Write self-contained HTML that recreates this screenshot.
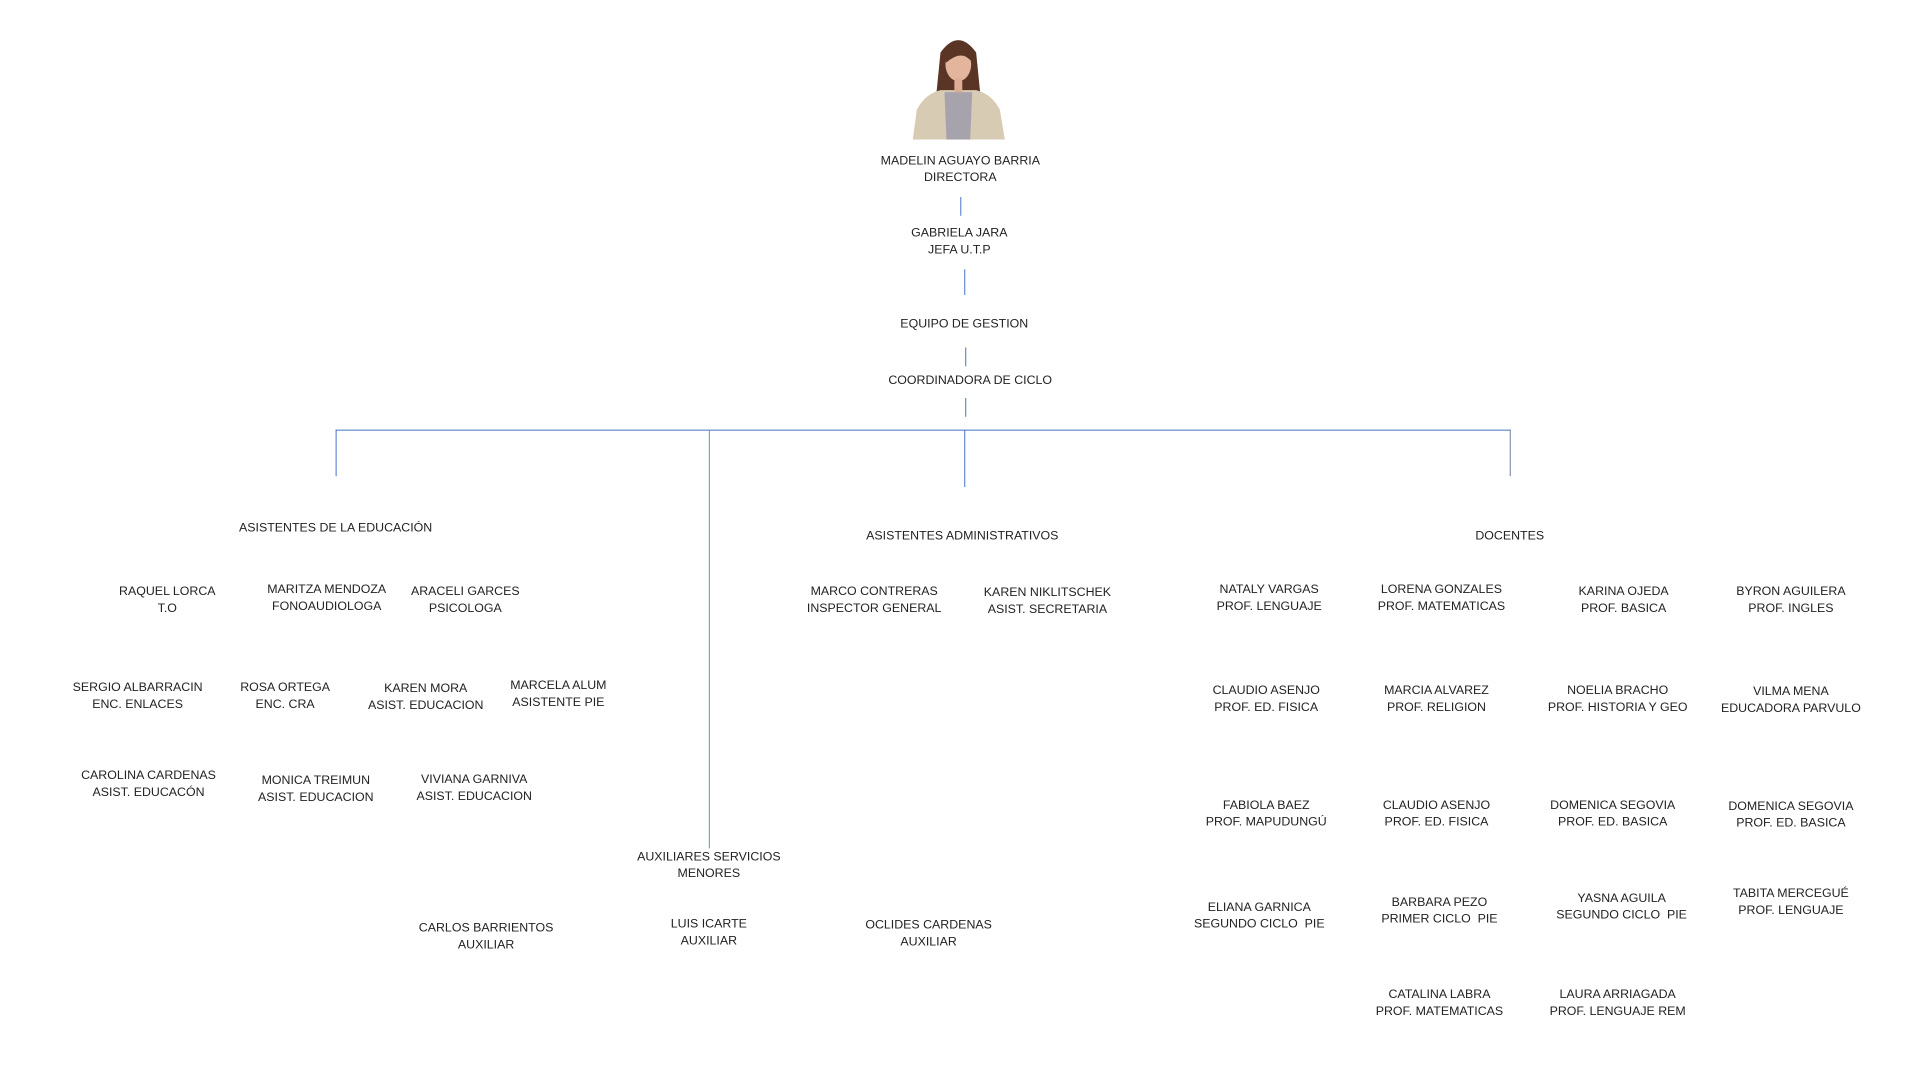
<!DOCTYPE html>
<html><head><meta charset="utf-8"><style>
body{margin:0;width:1920px;height:1080px;background:#fff;position:relative;overflow:hidden;font-family:"Liberation Sans",sans-serif;font-size:12.5px;color:#222}
#w{position:absolute;left:0;top:0;width:1920px;height:1080px;transform:scale(0.99);transform-origin:0 0}
.t{position:absolute;transform:translateX(-50%);text-align:center;white-space:nowrap;line-height:17px}
.v{position:absolute;width:1px;background:#4472c4}
.h{position:absolute;height:1px;background:#4472c4}
</style></head><body><div id="w">
<svg style="position:absolute;left:920px;top:33px" width="96" height="108" viewBox="0 0 96 108">
<path d="M30 20 Q48 -5 66 20 L72 80 L24 80 Z" fill="#5a3424"/>
<path d="M2 108 L6 78 Q14 62 30 58 L66 58 Q82 62 90 78 L95 108 Z" fill="#d8cbb4"/>
<path d="M34 60 L62 60 L60 108 L36 108 Z" fill="#a7a3ad"/>
<ellipse cx="48" cy="32" rx="13" ry="17" fill="#e2b59c"/>
<path d="M34 28 Q40 8 60 18 Q62 24 62 30 Q52 16 36 30 Z" fill="#5a3424"/>
<rect x="44" y="46" width="8" height="14" fill="#dcae96"/>
</svg>
<div class="t" style="left:970px;top:154px">MADELIN AGUAYO BARRIA<br>DIRECTORA</div>
<div class="v" style="left:970px;top:199px;height:19px"></div>
<div class="t" style="left:969px;top:227px">GABRIELA JARA<br>JEFA U.T.P</div>
<div class="v" style="left:974px;top:272px;height:26px"></div>
<div class="t" style="left:974px;top:319px">EQUIPO DE GESTION</div>
<div class="v" style="left:975px;top:351px;height:19px"></div>
<div class="t" style="left:980px;top:376px">COORDINADORA DE CICLO</div>
<div class="v" style="left:975px;top:402px;height:19px"></div>
<div class="h" style="left:339px;top:434px;width:1187px"></div>
<div class="v" style="left:339px;top:434px;height:47px"></div>
<div class="v" style="left:716px;top:434px;height:423px;background:#7f8aa0"></div>
<div class="v" style="left:974px;top:434px;height:58px"></div>
<div class="v" style="left:1525px;top:434px;height:47px;background:#6d7f9f"></div>

<div class="t" style="left:339px;top:525px">ASISTENTES DE LA EDUCACIÓN</div>
<div class="t" style="left:972px;top:533px">ASISTENTES ADMINISTRATIVOS</div>
<div class="t" style="left:1525px;top:533px">DOCENTES</div>

<div class="t" style="left:169px;top:589px">RAQUEL LORCA<br>T.O</div>
<div class="t" style="left:330px;top:587px">MARITZA MENDOZA<br>FONOAUDIOLOGA</div>
<div class="t" style="left:470px;top:589px">ARACELI GARCES<br>PSICOLOGA</div>
<div class="t" style="left:139px;top:686px">SERGIO ALBARRACIN<br>ENC. ENLACES</div>
<div class="t" style="left:288px;top:686px">ROSA ORTEGA<br>ENC. CRA</div>
<div class="t" style="left:430px;top:687px">KAREN MORA<br>ASIST. EDUCACION</div>
<div class="t" style="left:564px;top:684px">MARCELA ALUM<br>ASISTENTE PIE</div>
<div class="t" style="left:150px;top:775px">CAROLINA CARDENAS<br>ASIST. EDUCACÓN</div>
<div class="t" style="left:319px;top:780px">MONICA TREIMUN<br>ASIST. EDUCACION</div>
<div class="t" style="left:479px;top:779px">VIVIANA GARNIVA<br>ASIST. EDUCACION</div>
<div class="t" style="left:716px;top:857px">AUXILIARES SERVICIOS<br>MENORES</div>
<div class="t" style="left:491px;top:929px">CARLOS BARRIENTOS<br>AUXILIAR</div>
<div class="t" style="left:716px;top:925px">LUIS ICARTE<br>AUXILIAR</div>
<div class="t" style="left:938px;top:926px">OCLIDES CARDENAS<br>AUXILIAR</div>

<div class="t" style="left:883px;top:589px">MARCO CONTRERAS<br>INSPECTOR GENERAL</div>
<div class="t" style="left:1058px;top:590px">KAREN NIKLITSCHEK<br>ASIST. SECRETARIA</div>

<div class="t" style="left:1282px;top:587px">NATALY VARGAS<br>PROF. LENGUAJE</div>
<div class="t" style="left:1456px;top:587px">LORENA GONZALES<br>PROF. MATEMATICAS</div>
<div class="t" style="left:1640px;top:589px">KARINA OJEDA<br>PROF. BASICA</div>
<div class="t" style="left:1809px;top:589px">BYRON AGUILERA<br>PROF. INGLES</div>
<div class="t" style="left:1279px;top:689px">CLAUDIO ASENJO<br>PROF. ED. FISICA</div>
<div class="t" style="left:1451px;top:689px">MARCIA ALVAREZ<br>PROF. RELIGION</div>
<div class="t" style="left:1634px;top:689px">NOELIA BRACHO<br>PROF. HISTORIA Y GEO</div>
<div class="t" style="left:1809px;top:690px">VILMA MENA<br>EDUCADORA PARVULO</div>
<div class="t" style="left:1279px;top:805px">FABIOLA BAEZ<br>PROF. MAPUDUNGÚ</div>
<div class="t" style="left:1451px;top:805px">CLAUDIO ASENJO<br>PROF. ED. FISICA</div>
<div class="t" style="left:1629px;top:805px">DOMENICA SEGOVIA<br>PROF. ED. BASICA</div>
<div class="t" style="left:1809px;top:806px">DOMENICA SEGOVIA<br>PROF. ED. BASICA</div>
<div class="t" style="left:1272px;top:908px">ELIANA GARNICA<br>SEGUNDO CICLO &nbsp;PIE</div>
<div class="t" style="left:1454px;top:903px">BARBARA PEZO<br>PRIMER CICLO &nbsp;PIE</div>
<div class="t" style="left:1638px;top:899px">YASNA AGUILA<br>SEGUNDO CICLO &nbsp;PIE</div>
<div class="t" style="left:1809px;top:894px">TABITA MERCEGUÉ<br>PROF. LENGUAJE</div>
<div class="t" style="left:1454px;top:996px">CATALINA LABRA<br>PROF. MATEMATICAS</div>
<div class="t" style="left:1634px;top:996px">LAURA ARRIAGADA<br>PROF. LENGUAJE REM</div>
</div></body></html>
